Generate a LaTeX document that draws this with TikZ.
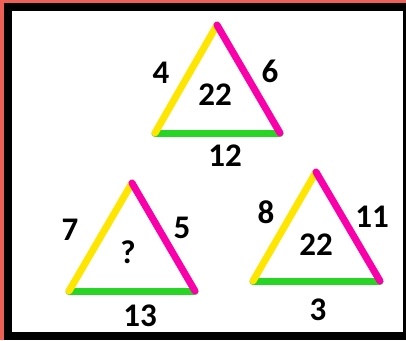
\documentclass[tikz,border=0pt]{standalone}
\usepackage{fontspec}
\setmainfont{Carlito}
\usepackage{tikz}
\definecolor{figS}{RGB}{236,96,86}
\definecolor{figY}{RGB}{255,230,0}
\definecolor{figM}{RGB}{250,0,170}
\definecolor{figG}{RGB}{40,212,36}
\tikzset{stick/.style={line width=7pt, line cap=round},
  num/.style={font=\fontsize{33}{38}\selectfont\bfseries, inner sep=0pt}}
\begin{document}
\begin{tikzpicture}[x=1pt, y=-1pt]
\useasboundingbox (0,0) rectangle (406,340);
% frame
\fill[figS] (0,0) rectangle (406,340);
\fill[black] (4,3) rectangle (406,340);
\fill[white] (12,11) rectangle (403,332);
% top triangle
\coordinate (ta) at (217,25);
\coordinate (tl) at (155,133);
\coordinate (tr) at (280,133);
\draw[stick, figG] (tl) -- (tr);
\draw[stick, figY] (tl) -- (ta);
\draw[stick, figM] (ta) -- (tr);
\node[num] (t4) at (161,73) {4};
\node[num] (t6) at (270,71) {6};
\node[num] (t22) at (215,95) {22};
\node[num] (t12) at (225,156) {12};
% bottom left triangle
\coordinate (la) at (132,183);
\coordinate (ll) at (69,291);
\coordinate (lr) at (195,291);
\draw[stick, figG] (ll) -- (lr);
\draw[stick, figY] (ll) -- (la);
\draw[stick, figM] (la) -- (lr);
\node[num] (l7) at (70,230) {7};
\node[num] (l5) at (182,228) {5};
\node[num] (lq) at (128,252) {?};
\node[num] (l13) at (140,316) {13};
% bottom right triangle
\coordinate (ra) at (316,172);
\coordinate (rl) at (253,281);
\coordinate (rr) at (380,281);
\draw[stick, figG] (rl) -- (rr);
\draw[stick, figY] (rl) -- (ra);
\draw[stick, figM] (ra) -- (rr);
\node[num] (r8) at (266,212) {8};
\node[num] (r11) at (372,217) {11};
\node[num] (r22) at (316,245) {22};
\node[num] (r3) at (318,310) {3};
\end{tikzpicture}
\end{document}
